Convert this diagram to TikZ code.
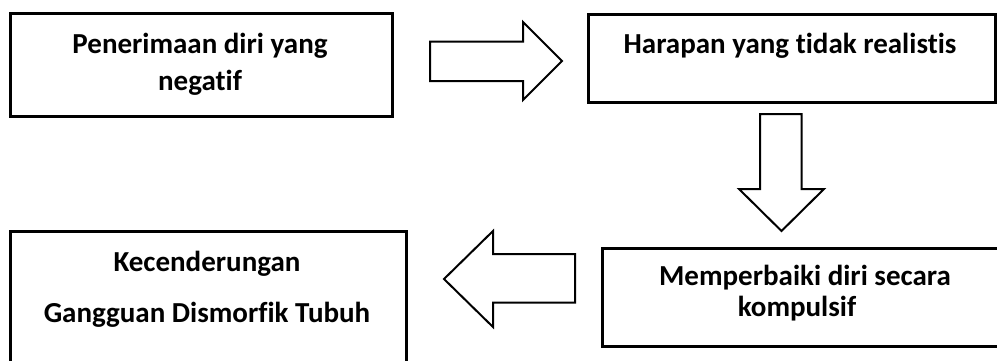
\documentclass[tikz,border=0pt]{standalone}
\usepackage{fontspec}
\setmainfont[Ligatures={NoCommon,NoRare}]{Carlito}
\begin{document}
\begin{tikzpicture}[x=1pt,y=-1pt,
  box/.style={draw=black,line width=2.6pt,rectangle,inner sep=0pt,anchor=north west},
  lbl/.style={font=\bfseries\fontsize{29}{34}\selectfont,anchor=base,inner sep=0pt},
  blockarrow/.style={draw=black,line width=2pt,fill=white,line join=miter}]
\clip (0,0) rectangle (997,360);
\useasboundingbox (0,0) rectangle (997,360);
% boxes
\node[box,minimum width=382pt,minimum height=103pt] (b1) at (9,12) {};
\node[box,minimum width=407pt,minimum height=88pt] (b2) at (587,13) {};
\node[box,minimum width=402pt,minimum height=98pt] (b3) at (601,247) {};
\node[box,minimum width=396pt,minimum height=140pt] (b4) at (9,230) {};
% texts
\node[lbl] (t1a) at (200,53) {Penerimaan diri yang};
\node[lbl] (t1b) at (200,90) {negatif};
\node[lbl] (t2) at (790,53) {Harapan yang tidak realistis};
\node[lbl] (t3a) at (805,285) {Memperbaiki diri secara};
\node[lbl] (t3b) at (797,316) {kompulsif};
\node[lbl] (t4a) at (207,271) {Kecenderungan};
\node[lbl] (t4b) at (207,322) {Gangguan Dismorfik Tubuh};
% block arrows
\draw[blockarrow] (430,41.5) -- (523,41.5) -- (523,22) -- (562,61) -- (523,100) -- (523,81) -- (430,81) -- cycle;
\draw[blockarrow] (760,114) -- (801.5,114) -- (801.5,189) -- (824,189) -- (781.5,231) -- (739,189) -- (760,189) -- cycle;
\draw[blockarrow] (575,254) -- (493,254) -- (493,231) -- (444,279) -- (493,327) -- (493,302.5) -- (575,302.5) -- cycle;
\end{tikzpicture}
\end{document}
